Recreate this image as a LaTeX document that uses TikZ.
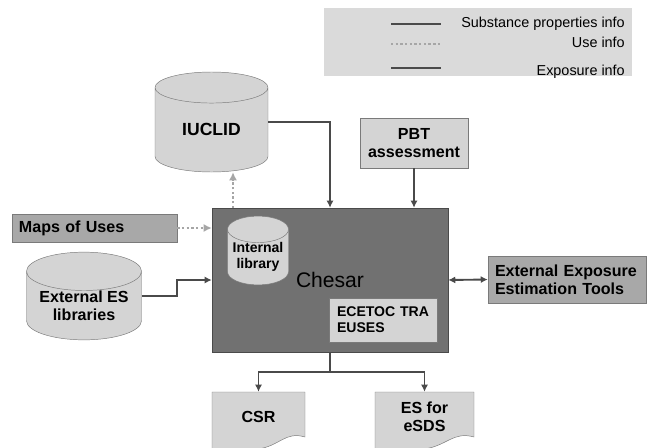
\documentclass[tikz,border=0pt]{standalone}
\usepackage{fontspec}
\setmainfont{Liberation Sans}
\usetikzlibrary{shapes.geometric,arrows.meta}
\definecolor{lightfill}{HTML}{D4D4D4}
\definecolor{legfill}{HTML}{DADADA}
\definecolor{midfill}{HTML}{A8A8A8}
\definecolor{darkfill}{HTML}{717171}
\definecolor{edge}{HTML}{7A7A7A}
\definecolor{flowline}{HTML}{4A4A4A}
\definecolor{useline}{HTML}{A6A6A6}
\newcommand{\lblfont}{\fontsize{13.7}{15.5}\selectfont\bfseries}
\newcommand{\smlfont}{\fontsize{12}{13.5}\selectfont\bfseries}
\newcommand{\legfont}{\fontsize{12.3}{14}\selectfont}

\begin{document}
\begin{tikzpicture}[x=0.03cm,y=-0.03cm,
    box/.style={draw=edge,fill=lightfill,inner sep=0pt,align=center,font=\lblfont},
    midbox/.style={draw=edge,fill=midfill,inner xsep=0.21cm,inner ysep=0pt,align=left,font=\lblfont},
    db/.style={cylinder,shape border rotate=90,anchor=shape center,draw=edge,fill=lightfill,inner sep=0pt,align=center,font=\lblfont},
    docshape/.style={draw=edge,fill=lightfill},
    flow/.style={draw=flowline,line width=1.6pt,-{Latex[length=6pt,width=6pt]}},
    useflow/.style={draw=useline,line width=2pt,dotted,-{Latex[length=7pt,width=7pt]}}]
  \clip (0,0) rectangle (653,447);
  \node[fill=legfill,minimum width=9.24cm,minimum height=2.04cm] (legend) at (478,42) {};
  \draw[flowline,line width=1.8pt] (391,24) -- (441,24);
  \draw[useline,line width=2pt,dotted] (391,44) -- (441,44);
  \draw[flowline,line width=1.8pt] (391,68) -- (441,68);
  \node[anchor=east,inner sep=0pt,font=\legfont] (subinfo) at (625,24) {Substance properties info};
  \node[anchor=east,inner sep=0pt,font=\legfont] (useinfo) at (625,42) {Use info};
  \node[anchor=east,inner sep=0pt,font=\legfont] (expinfo) at (625,72) {Exposure info};

  \node[db,minimum width=3.39cm,minimum height=3cm,aspect=0.53,font=\fontsize{15}{17}\selectfont\bfseries] (iuclid) at (211.5,122) {IUCLID};
  \node[box,minimum width=3.24cm,minimum height=1.5cm] (pbt) at (414,143) {PBT\\assessment};
  \node[draw=flowline,fill=darkfill,minimum width=7.08cm,minimum height=4.32cm,font=\fontsize{18}{20}\selectfont] (chesar) at (330,280) {Chesar};
  \node[db,minimum width=1.83cm,minimum height=1.59cm,aspect=0.52,font=\smlfont] (intlib) at (258,250.5) {Internal\\library};
  \node[box,align=left,inner xsep=0.24cm,text width=2.76cm,minimum height=1.32cm,font=\smlfont] (tra) at (383,320) {ECETOC TRA\\EUSES};
  \node[midbox,text width=4.53cm,minimum height=0.84cm] (maps) at (94.5,228) {Maps of Uses};
  \node[db,minimum width=3.45cm,minimum height=2.43cm,aspect=0.43] (eslib) at (84,296) {External ES\\libraries};
  \node[midbox,text width=4.32cm,minimum height=1.41cm] (ext) at (567,279.5) {External Exposure\\Estimation Tools};

  \draw[docshape] (212,392) -- ++(93,0) -- ++(0,45) .. controls +(-20,-6) and +(22,-3) .. ++(-47,12) .. controls +(-16,3) and +(12,-1) .. ++(-46,6) -- cycle;
  \draw[docshape] (375,392) -- ++(99,0) -- ++(0,45) .. controls +(-21,-6) and +(23,-3) .. ++(-50,12) .. controls +(-17,3) and +(13,-1) .. ++(-49,6) -- cycle;
  \node[box,draw=none,fill=none,minimum width=2.79cm,minimum height=1.5cm] (csr) at (258.5,417) {CSR};
  \node[box,draw=none,fill=none,minimum width=2.97cm,minimum height=1.5cm] (esds) at (424.5,417) {ES for\\eSDS};

  \draw[flow] (iuclid.shape center -| iuclid.east) -| (chesar.north);
  \coordinate (usein) at (233,208);
  \draw[useflow] (usein) -- (usein |- iuclid.south);
  \draw[flow] (pbt.south) -- (pbt.south |- chesar.north);
  \draw[useflow] (maps.east) -- (maps.east -| chesar.west);
  \draw[flow] (eslib.shape center -| eslib.east) -- ++(35,0) |- (chesar.west);
  \draw[draw=flowline,line width=1.6pt,{Latex[length=6pt,width=6pt]}-{Latex[length=6pt,width=6pt]}] (chesar.east) -- (ext.west);
  \draw[draw=flowline,line width=1.6pt] (chesar.south) -- ++(0,20) coordinate (split);
  \draw[flow] (split) -| (csr.north);
  \draw[flow] (split) -| (esds.north);
\end{tikzpicture}
\end{document}
